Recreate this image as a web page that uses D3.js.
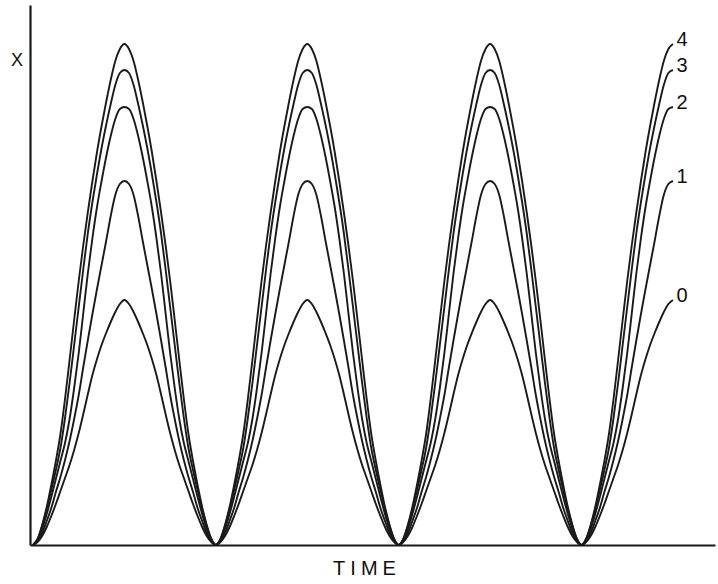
<!DOCTYPE html>
<html>
<head>
<meta charset="utf-8">
<script src="https://cdn.jsdelivr.net/npm/d3@7"></script>
<style>
  body { margin: 0; background: #fff; }
  text { font-family: "Liberation Sans", Arial, sans-serif; fill: #111; }
</style>
</head>
<body>
<div id="chart"></div>
<script>
// time inside one half arch (trough -> crest), in periods
var halfTime = [0, .025, .05, .075, .1, .125, .15, .175, .2, .225, .25,
                .275, .3, .325, .35, .375, .4, .425, .45, .475, .5];

// x for each curve at those times
var curve0 = [0, .03, .09, .18, .29, .41, .54, .67, .80, .95, 1.12,
              1.31, 1.51, 1.70, 1.86, 2.00, 2.12, 2.23, 2.33, 2.41, 2.45];
var curve1 = [0, .04, .12, .24, .37, .53, .68, .85, 1.04, 1.26, 1.50,
              1.78, 2.05, 2.31, 2.56, 2.80, 3.04, 3.29, 3.50, 3.61, 3.64];
var curve2 = [0, .05, .16, .31, .48, .66, .84, 1.02, 1.26, 1.57, 1.92,
              2.32, 2.72, 3.07, 3.38, 3.64, 3.88, 4.09, 4.26, 4.36, 4.38];
var curve3 = [0, .06, .19, .36, .55, .75, .97, 1.27, 1.62, 2.00, 2.38,
              2.76, 3.12, 3.43, 3.71, 3.97, 4.20, 4.41, 4.60, 4.72, 4.75];
var curve4 = [0, .06, .20, .38, .60, .84, 1.11, 1.46, 1.85, 2.25, 2.64,
              3.00, 3.33, 3.64, 3.93, 4.19, 4.43, 4.65, 4.84, 4.96, 5.01];

var curves = [curve0, curve1, curve2, curve3, curve4];
var curveLabels = ["0", "1", "2", "3", "4"];
var fullArches = 3;      // complete arches, then a rising half to the crest
var yLabel = "X";
var xLabel = "TIME";

var width = 718, height = 584;

var svg = d3.select("#chart").append("svg")
    .attr("width", width).attr("height", height);

var xScale = d3.scaleLinear().domain([-0.0165, 3.73]).range([30, 715]);
var yScale = d3.scaleLinear().domain([0, 5.4]).range([545, 5]);

// axes: bare lines, no ticks
svg.append("g")
    .attr("transform", "translate(0," + yScale(0) + ")")
    .call(d3.axisBottom(xScale).tickValues([]).tickSizeOuter(0))
    .select(".domain").attr("stroke", "#1a1a1a").attr("stroke-width", 2.2);

svg.append("g")
    .attr("transform", "translate(" + xScale.range()[0] + ",0)")
    .call(d3.axisLeft(yScale).tickValues([]).tickSizeOuter(0))
    .select(".domain").attr("stroke", "#1a1a1a").attr("stroke-width", 2.2);

// build the whole trace of one curve from its half arch
function trace(vals) {
    var pts = [];
    for (var k = 0; k < fullArches; k++) {
        for (var i = 0; i < halfTime.length; i++)
            pts.push([k + halfTime[i], vals[i]]);
        for (var j = halfTime.length - 2; j >= 0; j--)
            pts.push([k + 1 - halfTime[j], vals[j]]);
        pts.pop();
    }
    for (var i = 0; i < halfTime.length; i++)
        pts.push([fullArches + halfTime[i], vals[i]]);
    return pts;
}

var line = d3.line()
    .x(function(d) { return xScale(d[0]); })
    .y(function(d) { return yScale(d[1]); })
    .curve(d3.curveMonotoneX);

svg.selectAll("path.curve")
   .data(curves)
   .enter().append("path")
   .attr("class", "curve")
   .attr("d", function(d) { return line(trace(d)); })
   .attr("fill", "none")
   .attr("stroke", "#1a1a1a")
   .attr("stroke-width", 1.9);

// number at the end of each curve
svg.selectAll("text.lab")
   .data(curves)
   .enter().append("text")
   .attr("class", "lab")
   .attr("x", xScale(fullArches + 0.5) + 9)
   .attr("y", function(d) { return yScale(d[d.length - 1]) + 2; })
   .attr("text-anchor", "middle")
   .attr("font-size", 20)
   .text(function(d, i) { return curveLabels[i]; });

svg.append("text")
   .attr("x", 17).attr("y", 66)
   .attr("text-anchor", "middle")
   .attr("font-size", 18)
   .text(yLabel);

svg.append("text")
   .attr("x", 367).attr("y", 575)
   .attr("text-anchor", "middle")
   .attr("font-size", 20)
   .attr("letter-spacing", 5)
   .text(xLabel);
</script>
</body>
</html>
